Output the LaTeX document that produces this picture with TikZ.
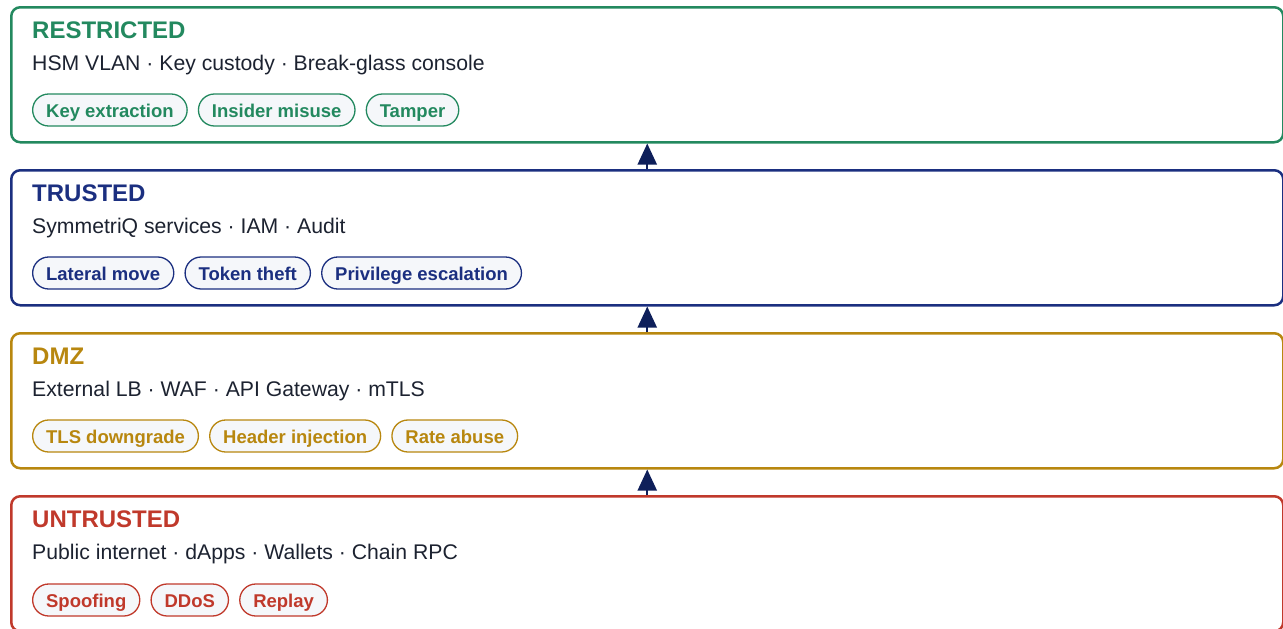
\documentclass[tikz,border=0pt]{standalone}
\usepackage{fontspec}
\setmainfont{Liberation Sans}
\usetikzlibrary{positioning,arrows.meta}

\definecolor{restrictedc}{HTML}{23895F}
\definecolor{trustedc}{HTML}{1B2F80}
\definecolor{dmzc}{HTML}{B8870F}
\definecolor{untrustedc}{HTML}{C0392B}
\definecolor{bodytext}{HTML}{1C2230}
\definecolor{chipfill}{HTML}{F5F7FA}
\definecolor{flowc}{HTML}{0E1F5A}

\tikzset{
  zone/.style={draw=#1, line width=2.5pt, rounded corners=9pt, minimum width=1272pt,
    minimum height=135pt, anchor=north west, inner sep=0pt},
  zonetitle/.style={anchor=base west, inner sep=0pt, text=#1,
    font=\fontsize{24}{28}\selectfont\bfseries},
  zonebody/.style={anchor=base west, inner sep=0pt, text=bodytext,
    font=\fontsize{21.2}{25}\selectfont},
  threat/.style={draw=#1, line width=1.3pt, fill=chipfill, text=#1, rounded corners=16pt,
    minimum height=32pt, inner xsep=13.5pt, inner ysep=0pt, text height=14pt, text depth=0pt,
    font=\fontsize{18.5}{21}\selectfont\bfseries},
  flow/.style={draw=flowc, line width=2pt, -{Triangle[length=21pt,width=19pt]}}
}

\begin{document}
\begin{tikzpicture}[x=1pt,y=1pt]
    \useasboundingbox (0,0) rectangle (1283,-629);

    \node[zone=restrictedc] (restricted) at (10,-6) {};
    \node[zonetitle=restrictedc] (restrictedtitle) at (32,-38) {RESTRICTED};
    \node[zonebody] (restrictedbody) at (32,-70) {HSM VLAN · Key custody · Break-glass console};
    \node[threat=restrictedc, anchor=west] (keyextract) at (32,-110) {Key extraction};
    \node[threat=restrictedc, right=10pt of keyextract] (insider) {Insider misuse};
    \node[threat=restrictedc, right=10pt of insider] (tamper) {Tamper};

    \node[zone=trustedc] (trusted) at (10,-169) {};
    \node[zonetitle=trustedc] (trustedtitle) at (32,-201) {TRUSTED};
    \node[zonebody] (trustedbody) at (32,-233) {SymmetriQ services · IAM · Audit};
    \node[threat=trustedc, anchor=west] (lateral) at (32,-273) {Lateral move};
    \node[threat=trustedc, right=10pt of lateral] (token) {Token theft};
    \node[threat=trustedc, right=10pt of token] (privesc) {Privilege escalation};

    \node[zone=dmzc] (dmz) at (10,-332) {};
    \node[zonetitle=dmzc] (dmztitle) at (32,-364) {DMZ};
    \node[zonebody] (dmzbody) at (32,-396) {External LB · WAF · API Gateway · mTLS};
    \node[threat=dmzc, anchor=west] (tlsdown) at (32,-436) {TLS downgrade};
    \node[threat=dmzc, right=10pt of tlsdown] (header) {Header injection};
    \node[threat=dmzc, right=10pt of header] (rate) {Rate abuse};

    \node[zone=untrustedc] (untrusted) at (10,-495) {};
    \node[zonetitle=untrustedc] (untrustedtitle) at (32,-527) {UNTRUSTED};
    \node[zonebody] (untrustedbody) at (32,-559) {Public internet · dApps · Wallets · Chain RPC};
    \node[threat=untrustedc, anchor=west] (spoof) at (32,-600) {Spoofing};
    \node[threat=untrustedc, right=10pt of spoof] (ddos) {DDoS};
    \node[threat=untrustedc, right=10pt of ddos] (replay) {Replay};

    \draw[flow] (untrusted.north) -- (dmz.south);
    \draw[flow] (dmz.north) -- (trusted.south);
    \draw[flow] (trusted.north) -- (restricted.south);
\end{tikzpicture}
\end{document}
